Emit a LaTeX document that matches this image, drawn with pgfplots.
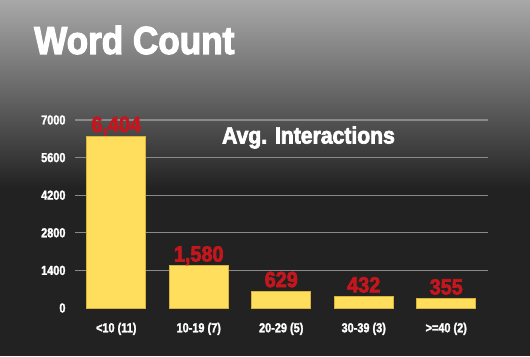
\documentclass[border=0pt]{standalone}
\usepackage{pgfplots}
\pgfplotsset{compat=1.18}
\usepackage{fontspec}
\newfontfamily\impact{Liberation Sans Bold}[FakeStretch=0.9,FakeBold=3]
\newfontfamily\impactn{Liberation Sans Bold}[FakeStretch=0.84,FakeBold=1.8]
\definecolor{barY}{HTML}{FFDE5E}
\definecolor{barE}{HTML}{D9B23A}
\definecolor{valR}{HTML}{C4171D}
\definecolor{gridG}{HTML}{8A8A8A}
\definecolor{bgTop}{HTML}{A8A8A8}
\definecolor{bgBot}{HTML}{222222}
\begin{document}
\begin{tikzpicture}[x=1bp,y=1bp]
\fill[bgBot] (0,0) rectangle (530,356);
\shade[top color=bgTop, bottom color=bgBot] (0,168) rectangle (530,356);
\node[anchor=west, text=white, inner sep=0] at (34,316) {\impact\fontsize{39bp}{40bp}\selectfont Word Count};
\begin{axis}[
  at={(75bp,48bp)}, anchor=south west,
  scale only axis, width=412.5bp, height=188bp,
  xmin=-0.5, xmax=4.5, ymin=0, ymax=7000,
  axis line style={draw=none},
  tick style={draw=none},
  ymajorgrids, grid style={draw=gridG, line width=1.1bp},
  ytick={1400,2800,4200,5600,7000},
  extra y ticks={0}, extra y tick style={grid=none},
  /pgf/number format/assume math mode=true,
  yticklabel style={font=\impactn\fontsize{13bp}{14bp}\selectfont, text=white, /pgf/number format/1000 sep={}, xshift=-6bp},
  xtick=data,
  xticklabels={<10 (11),10-19 (7),20-29 (5),30-39 (3),>=40 (2)},
  xticklabel style={font=\impactn\fontsize{13bp}{14bp}\selectfont, text=white, anchor=base, yshift=-20bp},
  ybar, bar width=59bp,
  nodes near coords,
  every node near coord/.append style={font=\impact\fontsize{22bp}{23bp}\selectfont, text=valR, anchor=base, inner sep=0, yshift=4bp, /pgf/number format/1000 sep={,}},
  clip=false,
]
\addplot[fill=barY, draw=barE, line width=0.8bp] coordinates {(0,6404) (1,1580) (2,629) (3,432) (4,355)};
\end{axis}
\node[text=white, inner sep=0] at (308.5,218.5) {\impact\fontsize{23.5bp}{24bp}\selectfont Avg. Interactions};
\end{tikzpicture}
\end{document}
